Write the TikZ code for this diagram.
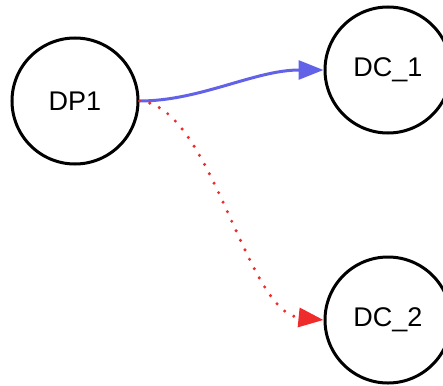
\documentclass[tikz,border=0pt]{standalone}
\usepackage{fontspec}
\setmainfont{Liberation Sans}
\usetikzlibrary{arrows.meta}
\definecolor{edgeblue}{RGB}{98,98,232}
\definecolor{edgered}{RGB}{238,44,44}
\tikzset{
  state/.style={circle, draw=black, line width=3pt, minimum size=126pt, inner sep=0pt,
    font=\fontsize{27}{31}\selectfont},
  blueedge/.style={draw=edgeblue, line width=3pt,
    -{Triangle[length=25pt,width=19pt,fill=edgeblue]}},
  rededge/.style={draw=edgered, line width=3.4pt, line cap=round, dash pattern=on 0pt off 10.5pt,
    -{Triangle[length=25pt,width=19pt,fill=edgered,line cap=butt]}}
}
\begin{document}
\begin{tikzpicture}[x=1pt,y=-1pt]
\useasboundingbox (0,0) rectangle (443,385);
\clip (0,0) rectangle (443,385);
\node[state] (DP1) at (75,101) {DP1};
\node[state] (DC1) at (388,70) {DC\_1};
\node[state] (DC2) at (388,320) {DC\_2};
\coordinate (s) at (DP1.east);
\draw[blueedge] (s) .. controls (200,101) and (255,70) .. (DC1.west);
\draw[rededge] (s) .. controls (212,106) and (245,312) .. (DC2.west);
\end{tikzpicture}
\end{document}
